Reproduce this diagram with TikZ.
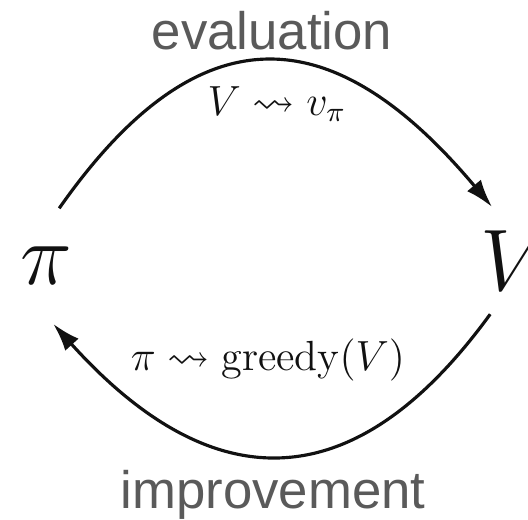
\documentclass[tikz,border=0pt]{standalone}
\usepackage{fontspec}
\usepackage{amssymb}
\newfontfamily\wordfont{Liberation Sans}
\usetikzlibrary{arrows.meta}
\definecolor{ink}{HTML}{111111}
\definecolor{muted}{HTML}{5A5A5A}
\tikzset{
  sweep/.style={
    -{Latex[length=2.8mm,width=1.8mm]},
    draw=ink,
    line width=0.9pt
  },
  quantity/.style={
    circle,
    minimum size=11.6mm,
    inner sep=0pt,
    text=ink,
    font=\fontsize{25}{30}\selectfont
  },
  rule label/.style={
    inner sep=1pt,
    text=ink,
    font=\fontsize{12}{14}\selectfont
  },
  phase/.style={
    inner sep=0pt,
    text=muted,
    font=\wordfont\fontsize{15}{18}\selectfont
  }
}

\begin{document}
\begin{tikzpicture}
  \useasboundingbox (0,0) rectangle (5.28,5.19);

  \node[quantity] (pi) at (0.46,2.535) {$\pi$};
  \node[quantity] (V) at (5.15,2.58) {$V$};

  \node[phase,anchor=base] (eval) at (2.72,4.69) {evaluation};
  \node[phase,anchor=base] (impr) at (2.73,0.11) {improvement};

  \draw[sweep] (pi.77) to[out=55,in=130,looseness=1.45] (V.113);
  \draw[sweep] (V.-115) to[out=234,in=-48,looseness=1.37] (pi.-83);

  \node[rule label] (eval-rule) at (2.77,4.15) {$V \leadsto v_\pi$};
  \node[rule label] (impr-rule) at (2.68,1.59) {$\pi \leadsto \mathrm{greedy}(V)$};
\end{tikzpicture}
\end{document}
